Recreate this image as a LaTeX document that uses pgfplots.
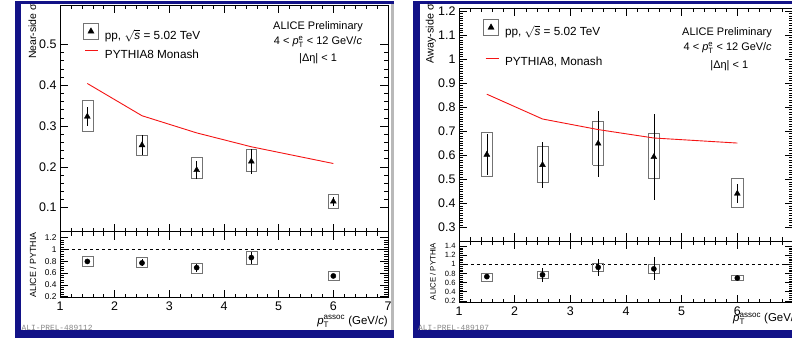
\documentclass[border=0pt]{standalone}
\usepackage{amsmath}
\usepackage{pgfplots}
\pgfplotsset{compat=1.18}
\usepackage{fontspec}
\setmainfont{Liberation Sans}
\newfontfamily\monofont{Liberation Mono}
\definecolor{navy}{RGB}{18,18,135}
\definecolor{rootred}{RGB}{245,20,20}
\definecolor{boxgray}{RGB}{115,115,115}
\definecolor{tagray}{RGB}{135,135,135}

\newcommand{\fs}[1]{\fontsize{#1}{#1}\selectfont}

\pgfplotsset{
  rootaxis/.style={
    scale only axis,
    xmin=1, xmax=7,
    tick align=inside,
    major tick length=8bp, minor tick length=4bp,
    axis line style={line width=0.6pt, black},
    every tick/.style={black, line width=0.5pt},
    xtick={1,2,3,4,5,6,7}, minor x tick num=4,
    /pgf/number format/assume math mode=true,
    tick label style={font=\fs{12.5}},
    xticklabel style={inner sep=0.5bp, yshift=-3.5bp},
    unbounded coords=jump,
  },
  sysbox/.style={boxgray, line width=0.6pt, forget plot, mark=none},
  staterr/.style={only marks, black,
    error bars/y dir=both, error bars/y explicit, error bars/error mark=none,
    error bars/error bar style={line width=0.5pt, black}},
  trilegend/.style={legend image code/.code={
      \draw[boxgray, line width=0.6pt] (0bp,-4.5bp) rectangle (15bp,11.5bp);
      \fill[black] (7.5bp,7.1bp) -- (4.4bp,1.7bp) -- (10.6bp,1.7bp) -- cycle;
      \path (21bp,0bp);}},
  redlegend/.style={legend image code/.code={
      \draw[rootred, line width=0.9pt] (2bp,3.8bp) -- (15bp,3.8bp);
      \path (21bp,0bp);}},
}

\begin{document}
\begin{tikzpicture}
\useasboundingbox (0,0) rectangle (792bp,339bp);
% canvas frames
\fill[navy] (15bp,1.5bp) rectangle (393.5bp,337.5bp);
\fill[white] (20.5bp,8.5bp) rectangle (390.5bp,334.5bp);
\fill[gray!55] (390.5bp,8.5bp) rectangle (393.5bp,335bp);
\fill[navy] (413bp,1.5bp) rectangle (795bp,337.5bp);
\fill[white] (419.5bp,8.5bp) rectangle (795bp,334.5bp);

% ================= LEFT: near side =================
\begin{axis}[rootaxis, at={(60bp,107.3bp)}, anchor=south west,
  width=328bp, height=226.2bp, ymin=0.041, ymax=0.595,
  ytick={0.1,0.2,0.3,0.4,0.5}, minor y tick num=4, xticklabels={},
  legend style={at={(axis description cs:0.07,0.923)}, anchor=north west,
    draw=none, fill=none, font=\fs{11.8}, row sep=9bp, inner sep=0pt,
    nodes={inner sep=0pt}},
  legend cell align=left]
\addplot[sysbox] table {
x y
1.4 0.286
1.6 0.286
1.6 0.363
1.4 0.363
1.4 0.286
nan nan
2.4 0.227
2.6 0.227
2.6 0.278
2.4 0.278
2.4 0.227
nan nan
3.4 0.171
3.6 0.171
3.6 0.222
3.4 0.222
3.4 0.171
nan nan
4.4 0.188
4.6 0.188
4.6 0.244
4.4 0.244
4.4 0.188
nan nan
5.9 0.099
6.1 0.099
6.1 0.132
5.9 0.132
5.9 0.099
};
\addplot[staterr, trilegend, mark=triangle*, mark size=3.4bp] coordinates {
(1.5,0.323) +- (0,0.024)
(2.5,0.253) +- (0,0.025)
(3.5,0.192) +- (0,0.021)
(4.5,0.213) +- (0,0.030)
(6,0.115) +- (0,0.012)
};
\addlegendentry{pp, $\sqrt{\textit{s}}$ = 5.02 TeV}
\addplot[rootred, line width=0.9pt, mark=none, redlegend] coordinates {
(1.5,0.404) (2.5,0.325) (3.5,0.283) (4.5,0.249) (6,0.208)
};
\addlegendentry{PYTHIA8 Monash}
\end{axis}

\begin{axis}[rootaxis, at={(60bp,41.3bp)}, anchor=south west,
  width=328bp, height=66bp, ymin=0.183, ymax=1.297,
  ytick={0.2,0.4,0.6,0.8,1,1.2}, minor y tick num=4,
  yticklabel style={font=\fs{8.4}}]
\addplot[black, dashed, line width=0.6pt, mark=none, forget plot] coordinates {(1,1) (7,1)};
\addplot[sysbox] table {
x y
1.4 0.71
1.6 0.71
1.6 0.875
1.4 0.875
1.4 0.71
nan nan
2.4 0.69
2.6 0.69
2.6 0.86
2.4 0.86
2.4 0.69
nan nan
3.4 0.59
3.6 0.59
3.6 0.77
3.4 0.77
3.4 0.59
nan nan
4.4 0.75
4.6 0.75
4.6 0.96
4.4 0.96
4.4 0.75
nan nan
5.9 0.48
6.1 0.48
6.1 0.63
5.9 0.63
5.9 0.48
};
\addplot[staterr, mark=*, mark size=2.6bp] coordinates {
(1.5,0.795) +- (0,0.04)
(2.5,0.77) +- (0,0.06)
(3.5,0.69) +- (0,0.07)
(4.5,0.86) +- (0,0.10)
(6,0.55) +- (0,0.04)
};
\end{axis}

% ================= RIGHT: away side =================
\begin{axis}[rootaxis, at={(459bp,98bp)}, anchor=south west,
  width=334bp, height=232.7bp, ymin=0.244, ymax=1.211,
  ytick={0.3,0.4,0.5,0.6,0.7,0.8,0.9,1,1.1,1.2}, minor y tick num=9, xticklabels={},
  legend style={at={(axis description cs:0.072,0.954)}, anchor=north west,
    draw=none, fill=none, font=\fs{11.8}, row sep=20bp, inner sep=0pt,
    nodes={inner sep=0pt}},
  legend cell align=left]
\addplot[sysbox] table {
x y
1.4 0.514
1.6 0.514
1.6 0.695
1.4 0.695
1.4 0.514
nan nan
2.4 0.49
2.6 0.49
2.6 0.636
2.4 0.636
2.4 0.49
nan nan
3.4 0.558
3.6 0.558
3.6 0.742
3.4 0.742
3.4 0.558
nan nan
4.4 0.503
4.6 0.503
4.6 0.69
4.4 0.69
4.4 0.503
nan nan
5.9 0.383
6.1 0.383
6.1 0.506
5.9 0.506
5.9 0.383
};
\addplot[staterr, trilegend, mark=triangle*, mark size=3.4bp] coordinates {
(1.5,0.603) +- (0,0.085)
(2.5,0.56) +- (0,0.095)
(3.5,0.649) +- (0,0.137)
(4.5,0.593) +- (0,0.18)
(6,0.441) +- (0,0.04)
};
\addlegendentry{pp, $\sqrt{\textit{s}}$ = 5.02 TeV}
\addplot[rootred, line width=0.9pt, mark=none, redlegend] coordinates {
(1.5,0.854) (2.5,0.751) (3.5,0.707) (4.5,0.672) (6,0.651)
};
\addlegendentry{PYTHIA8, Monash}
\end{axis}

\begin{axis}[rootaxis, at={(459bp,36.3bp)}, anchor=south west,
  width=334bp, height=61.7bp, ymin=0.16, ymax=1.51,
  ytick={0.2,0.4,0.6,0.8,1,1.2,1.4}, minor y tick num=4,
  xticklabels={1,2,3,4,5,6,{}},
  yticklabel style={font=\fs{7.6}}]
\addplot[black, dashed, line width=0.6pt, mark=none, forget plot] coordinates {(1,1) (7,1)};
\addplot[sysbox] table {
x y
1.4 0.635
1.6 0.635
1.6 0.80
1.4 0.80
1.4 0.635
nan nan
2.4 0.69
2.6 0.69
2.6 0.84
2.4 0.84
2.4 0.69
nan nan
3.4 0.84
3.6 0.84
3.6 1.02
3.4 1.02
3.4 0.84
nan nan
4.4 0.80
4.6 0.80
4.6 1.0
4.4 1.0
4.4 0.80
nan nan
5.9 0.64
6.1 0.64
6.1 0.76
5.9 0.76
5.9 0.64
};
\addplot[staterr, mark=*, mark size=2.6bp] coordinates {
(1.5,0.73) +- (0,0.05)
(2.5,0.77) +- (0,0.15)
(3.5,0.935) +- (0,0.19)
(4.5,0.90) +- (0,0.25)
(6,0.70) +- (0,0.03)
};
\end{axis}

% ================= texts =================
\node[rotate=90, anchor=base east, font=\fs{10.5}, inner sep=0pt] at (36bp,335bp) {Near-side σ};
\node[rotate=90, anchor=base, font=\fs{8.9}, inner sep=0pt] at (36bp,74bp) {ALICE / PYTHIA};
\node[rotate=90, anchor=base east, font=\fs{10.8}, inner sep=0pt] at (433.5bp,335bp) {Away-side σ};
\node[rotate=90, anchor=base, font=\fs{7.8}, inner sep=0pt] at (435.5bp,67.5bp) {ALICE / PYTHIA};

\node[anchor=base, font=\fs{11}, inner sep=0pt] at (318bp,309.7bp) {ALICE Preliminary};
\node[anchor=base, font=\fs{11}, inner sep=0pt] at (318bp,294.7bp) {4 < \textit{p}$_{\text{T}}^{\text{e}}$ < 12 GeV/\textit{c}};
\node[anchor=base, font=\fs{11}, inner sep=0pt] at (318bp,277.5bp) {|Δη| < 1};
\node[anchor=base, font=\fs{11}, inner sep=0pt] at (727bp,303.3bp) {ALICE Preliminary};
\node[anchor=base, font=\fs{11}, inner sep=0pt] at (727.7bp,288.3bp) {4 < \textit{p}$_{\text{T}}^{\text{e}}$ < 12 GeV/\textit{c}};
\node[anchor=base, font=\fs{11}, inner sep=0pt] at (729.3bp,270.7bp) {|Δη| < 1};

\node[anchor=base east, font=\fs{11.5}, inner sep=0pt] at (388bp,14.8bp) {\textit{p}$_{\text{T}}^{\text{assoc}}$ (GeV/\textit{c})};
\node[anchor=base west, font=\fs{11.5}, inner sep=0pt] at (733bp,17.5bp) {\textit{p}$_{\text{T}}^{\text{assoc}}$ (GeV/\textit{c})};

\node[anchor=west, font=\monofont\fs{7.9}, text=tagray, inner sep=0pt] at (21.5bp,11bp) {ALI-PREL-489112};
\node[anchor=west, font=\monofont\fs{7.9}, text=tagray, inner sep=0pt] at (418bp,11bp) {ALI-PREL-489107};
\end{tikzpicture}
\end{document}
